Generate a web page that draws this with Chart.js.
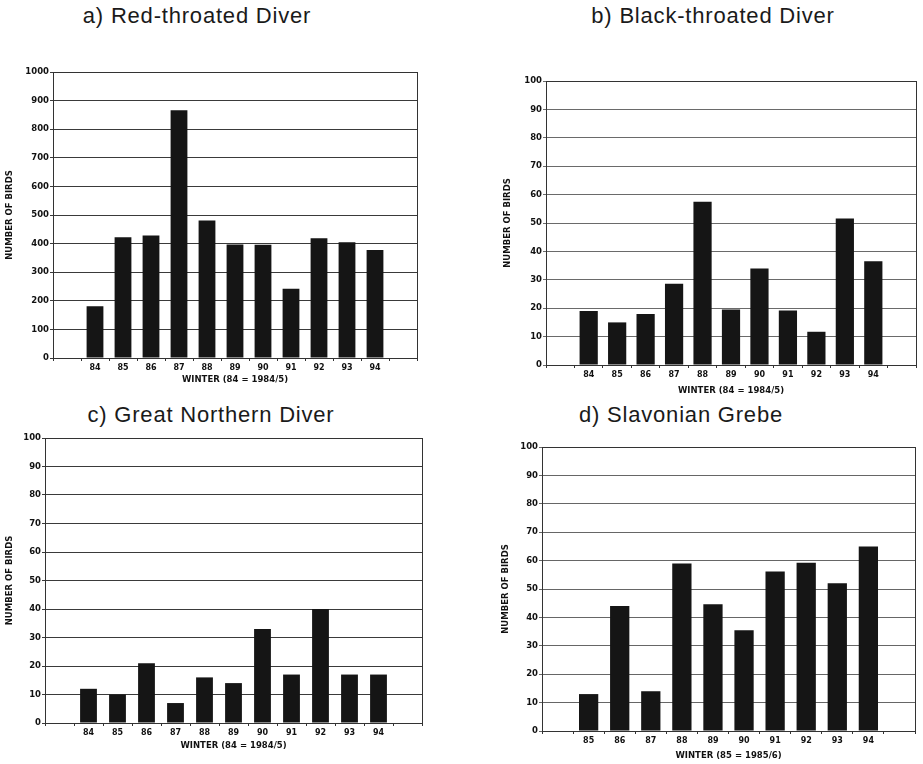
<!DOCTYPE html>
<html>
<head>
<meta charset="utf-8">
<script src="https://cdn.jsdelivr.net/npm/chart.js@4/dist/chart.umd.min.js"></script>
<style>
  body { margin: 0; background: #fff; }
  #page { position: relative; width: 923px; height: 764px; overflow: hidden; background: #fff; }
  #page canvas { position: absolute; }
  .panel-title {
    position: absolute; width: 360px; margin-left: -180px; text-align: center;
    font: 22px "Liberation Sans", Arial, sans-serif; line-height: 22px;
    letter-spacing: 0.8px; color: #1a1a1a; white-space: nowrap;
  }
</style>
</head>
<body>
<div id="page"></div>
<script>
// winters, 84 = 1984/5
const winters = ['84', '85', '86', '87', '88', '89', '90', '91', '92', '93', '94'];
const grebeWinters = ['85', '86', '87', '88', '89', '90', '91', '92', '93', '94'];

const redThroated = [181, 422, 428, 866, 481, 397, 396, 242, 419, 405, 378];
const blackThroated = [19, 15, 18, 28.6, 57.5, 19.5, 34, 19.2, 11.7, 51.6, 36.5];
const greatNorthern = [12, 10, 21, 7, 16, 14, 33, 17, 40, 17, 17];
const slavonian = [13, 44, 14, 59, 44.6, 35.5, 56.2, 59.2, 52, 65];

const bigTicks = [0, 1000, 100];
const smallTicks = [0, 100, 10];

const yTitle = 'NUMBER OF BIRDS';

const panels = [
    { title: 'a) Red-throated Diver', cx: 197, ty: 5, labels: winters, values: redThroated,
      xTitle: 'WINTER (84 = 1984/5)', ticks: bigTicks,
      plot: { l: 53, t: 72, r: 417, b: 358 }, yW: 48, xH: 29, bar: 0.6, grid: '#3a3a3a' },
    { title: 'b) Black-throated Diver', cx: 713, ty: 5, labels: winters, values: blackThroated,
      xTitle: 'WINTER (84 = 1984/5)', ticks: smallTicks,
      plot: { l: 546, t: 81, r: 916, b: 365 }, yW: 43, xH: 33, bar: 0.64, grid: '#6a6a6a' },
    { title: 'c) Great Northern Diver', cx: 211, ty: 404, labels: winters, values: greatNorthern,
      xTitle: 'WINTER (84 = 1984/5)', ticks: smallTicks,
      plot: { l: 45, t: 438, r: 422, b: 723 }, yW: 40, xH: 30, bar: 0.58, grid: '#3a3a3a' },
    { title: 'd) Slavonian Grebe', cx: 681, ty: 404, labels: grebeWinters, values: slavonian,
      xTitle: 'WINTER (85 = 1985/6)', ticks: smallTicks,
      plot: { l: 542, t: 447, r: 915, b: 731 }, yW: 41, xH: 32, bar: 0.62, grid: '#666' }
];

// box round the plot area
const frameBox = {
    id: 'frameBox',
    afterDatasetsDraw(chart) {
        const a = chart.chartArea;
        const ctx = chart.ctx;
        ctx.save();
        ctx.strokeStyle = '#333';
        ctx.lineWidth = 1;
        ctx.strokeRect(Math.round(a.left) + 0.5, Math.round(a.top) + 0.5,
            Math.round(a.right - a.left), Math.round(a.bottom - a.top));
        ctx.restore();
    }
};

const page = document.getElementById('page');
const tickFont = { family: '"DejaVu Sans", sans-serif', size: 8.5, weight: 'bold' };
const xTickFont = { family: '"DejaVu Sans", sans-serif', size: 8, weight: 'bold' };
const axisTitleFont = { family: '"DejaVu Sans", sans-serif', size: 8.5, weight: 'bold' };

panels.forEach(p => {
    const t = document.createElement('div');
    t.className = 'panel-title';
    t.style.left = p.cx + 'px';
    t.style.top = p.ty + 'px';
    t.textContent = p.title;
    page.appendChild(t);

    const padTop = 12, padRight = 6;
    const left = p.plot.l - p.yW;
    const top = p.plot.t - padTop;
    const canvas = document.createElement('canvas');
    canvas.width = p.plot.r - left + padRight;
    canvas.height = p.plot.b - top + p.xH;
    canvas.style.left = left + 'px';
    canvas.style.top = top + 'px';
    page.appendChild(canvas);

    // one empty slot before and after the winters
    const labels = [''].concat(p.labels, ['']);
    const data = [null].concat(p.values, [null]);

    new Chart(canvas.getContext('2d'), {
        type: 'bar',
        data: {
            labels: labels,
            datasets: [{ data: data, backgroundColor: '#151515', borderWidth: 0,
                barPercentage: p.bar, categoryPercentage: 1 }]
        },
        options: {
            responsive: false,
            animation: false,
            layout: { padding: { top: padTop, right: padRight, left: 0, bottom: 0 } },
            plugins: { legend: { display: false }, tooltip: { enabled: false } },
            scales: {
                x: {
                    grid: { offset: true, drawOnChartArea: false, drawTicks: true, tickLength: 3, color: '#333' },
                    border: { display: true, color: '#333' },
                    ticks: { font: xTickFont, color: '#111', padding: 2, maxRotation: 0, autoSkip: false },
                    title: { display: true, text: p.xTitle, font: axisTitleFont, color: '#111', padding: { top: 0, bottom: 2 } },
                    afterFit: s => { s.height = p.xH; }
                },
                y: {
                    min: p.ticks[0], max: p.ticks[1],
                    grid: { color: p.grid, lineWidth: 1, tickLength: 3 },
                    border: { display: true, color: '#333' },
                    ticks: { stepSize: p.ticks[2], font: tickFont, color: '#111', padding: 1,
                        callback: v => String(v) },
                    title: { display: true, text: yTitle, font: axisTitleFont, color: '#111', padding: 0 },
                    afterFit: s => { s.width = p.yW; }
                }
            }
        },
        plugins: [frameBox]
    });
});
</script>
</body>
</html>
